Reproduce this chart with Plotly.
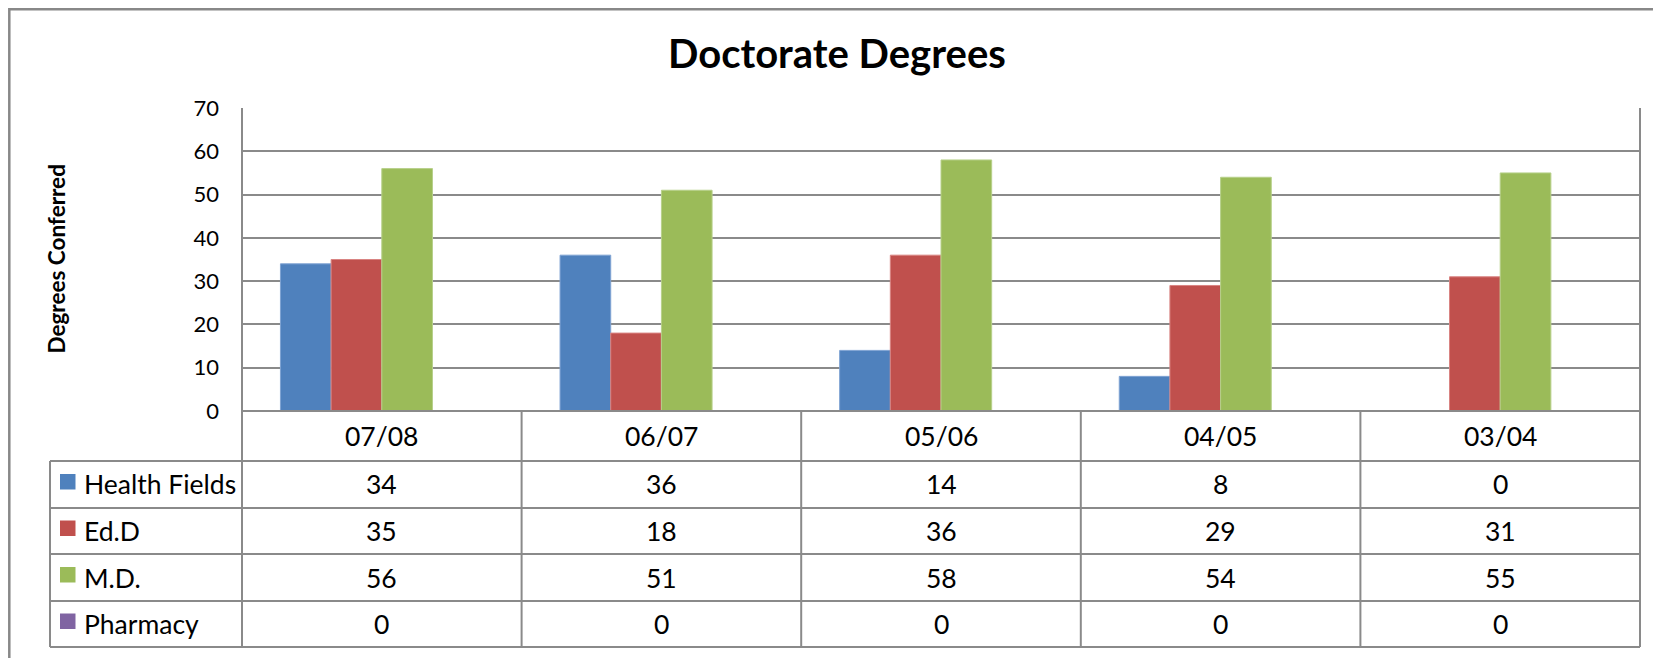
import plotly.graph_objects as go

# ---- data ----
categories = ["07/08", "06/07", "05/06", "04/05", "03/04"]
series_names = ["Health Fields", "Ed.D", "M.D.", "Pharmacy"]
health_fields = [34, 36, 14, 8, 0]
edd = [35, 18, 36, 29, 31]
md = [56, 51, 58, 54, 55]
pharmacy = [0, 0, 0, 0, 0]
y_ticks = [0, 10, 20, 30, 40, 50, 60, 70]

series_values = [health_fields, edd, md, pharmacy]
colors = ["#4F81BD", "#C0504D", "#9BBB59", "#8064A2"]
edge_colors = ["#7FA3D3", "#D98482", "#B7D08A", "#A08BBF"]

W, H = 1661, 658
OFF = 8  # page body margin compensation
FONT = "Lato"
GRID = "#8a8a8a"


def px(v):
    return (v - OFF) / W


def py(v):
    return 1 - (v - OFF) / H


plot_left, plot_right = 242, 1640
plot_top, plot_bottom = 108, 411
row_edges = [411, 461, 508, 554, 601, 647]
legend_left = 50

fig = go.Figure()
for name, vals, c, ec in zip(series_names, series_values, colors, edge_colors):
    fig.add_trace(go.Bar(
        x=categories, y=vals, name=name,
        marker=dict(color=c, line=dict(color=ec, width=1)),
        showlegend=False,
    ))

shapes = []
annotations = []

# outer chart border (extends past the right and bottom edges)
shapes.append(dict(type="rect", xref="paper", yref="paper",
                   x0=px(OFF + 1.3), x1=1.02, y0=-0.05, y1=py(OFF + 1.3),
                   line=dict(color="#888888", width=2.5), layer="below"))

# plot area border (left, right)
shapes.append(dict(type="line", xref="x domain", yref="y domain", x0=0, x1=0, y0=0, y1=1,
                   line=dict(color=GRID, width=2)))
shapes.append(dict(type="line", xref="x domain", yref="y domain", x0=1, x1=1, y0=0, y1=1,
                   line=dict(color=GRID, width=2)))

# data table: horizontal lines
for i, ry in enumerate(row_edges):
    x0 = plot_left if i == 0 else legend_left
    shapes.append(dict(type="line", xref="paper", yref="paper",
                       x0=px(x0), x1=px(plot_right), y0=py(ry), y1=py(ry),
                       line=dict(color=GRID, width=2)))
# vertical lines
shapes.append(dict(type="line", xref="x domain", yref="paper", x0=0, x1=0,
                   y0=py(row_edges[0]), y1=py(row_edges[-1]), line=dict(color=GRID, width=2)))
shapes.append(dict(type="line", xref="x domain", yref="paper", x0=1, x1=1,
                   y0=py(row_edges[0]), y1=py(row_edges[-1]), line=dict(color=GRID, width=2)))
for k in range(1, len(categories)):
    shapes.append(dict(type="line", xref="x", yref="paper", x0=k - 0.5, x1=k - 0.5,
                       y0=py(row_edges[0]), y1=py(row_edges[-1]), line=dict(color=GRID, width=2)))
shapes.append(dict(type="line", xref="paper", yref="paper", x0=px(legend_left), x1=px(legend_left),
                   y0=py(row_edges[1]), y1=py(row_edges[-1]), line=dict(color=GRID, width=2)))

TABLE_FONT = dict(family=FONT, size=26.5, color="#000000")

# category header row
hdr_c = (row_edges[0] + row_edges[1]) / 2
for k, cat in enumerate(categories):
    annotations.append(dict(x=k, xref="x", y=py(hdr_c), yref="paper", text=cat,
                            showarrow=False, xanchor="center", yanchor="middle", font=TABLE_FONT))

# series rows
for r, (name, vals, c) in enumerate(zip(series_names, series_values, colors)):
    top, bot = row_edges[r + 1], row_edges[r + 2]
    cy = (top + bot) / 2
    shapes.append(dict(type="rect", xref="paper", yref="paper",
                       x0=px(60), x1=px(75.5), y0=py(cy + 5), y1=py(cy - 10.5),
                       fillcolor=c, line=dict(width=0)))
    annotations.append(dict(x=px(82), xref="paper", y=py(cy), yref="paper", text=name,
                            showarrow=False, xanchor="left", yanchor="middle", font=TABLE_FONT))
    for k, v in enumerate(vals):
        annotations.append(dict(x=k, xref="x", y=py(cy), yref="paper", text=str(v),
                                showarrow=False, xanchor="center", yanchor="middle", font=TABLE_FONT))

# title
annotations.append(dict(x=px(837), xref="paper", y=py(53), yref="paper",
                        text="<b>Doctorate Degrees</b>", showarrow=False,
                        xanchor="center", yanchor="middle",
                        font=dict(family=FONT, size=40, color="#000000")))
# y-axis title
annotations.append(dict(x=px(56), xref="paper", y=py((plot_top + plot_bottom) / 2), yref="paper",
                        text="<b>Degrees Conferred</b>", showarrow=False, textangle=-90,
                        xanchor="center", yanchor="middle",
                        font=dict(family=FONT, size=22.5, color="#000000")))

fig.update_layout(
    width=W, height=H,
    margin=dict(l=0, r=0, t=0, b=0, autoexpand=False),
    paper_bgcolor="#ffffff", plot_bgcolor="#ffffff",
    barmode="group", bargap=0.275, bargroupgap=0,
    shapes=shapes, annotations=annotations,
    showlegend=False,
    xaxis=dict(domain=[px(plot_left), px(plot_right)], showticklabels=False, ticks="",
               showgrid=False, zeroline=False, showline=False, fixedrange=True,
               automargin=False, range=[-0.5, len(categories) - 0.5]),
    yaxis=dict(domain=[py(plot_bottom), py(plot_top)], range=[0, 70],
               tickvals=y_ticks, ticktext=[str(t) for t in y_ticks],
               showgrid=True, gridcolor=GRID, gridwidth=2,
               zeroline=True, zerolinecolor=GRID, zerolinewidth=2,
               showline=False, ticks="", ticklabelstandoff=22, automargin=False,
               tickfont=dict(family=FONT, size=22, color="#000000"), fixedrange=True),
)

fig.write_html("out.html")
